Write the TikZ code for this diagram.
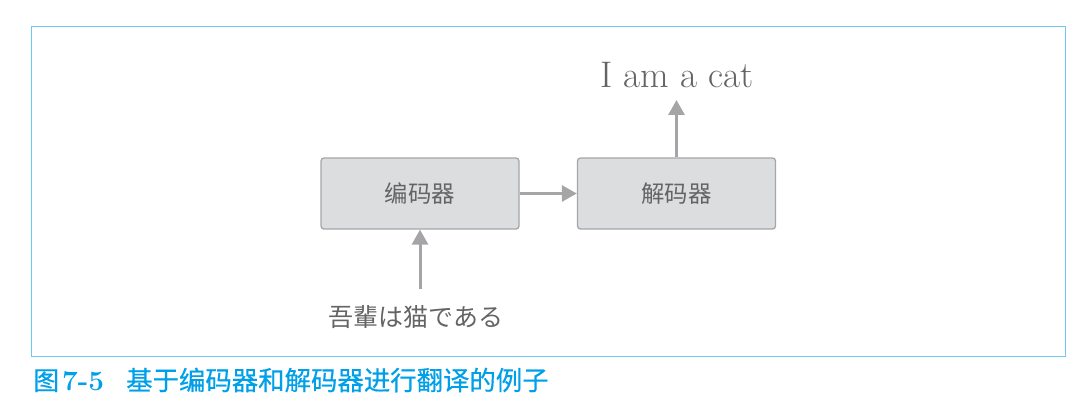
\documentclass[tikz,border=0pt]{standalone}
\usepackage{fontspec}
\newfontfamily\cjk{Noto Sans CJK SC}
\newfontfamily\cjkb[FakeBold=0.5]{Noto Sans CJK SC}
\newfontfamily\jp{Noto Sans CJK JP}
\usetikzlibrary{arrows.meta}
\definecolor{framec}{RGB}{110,200,240}
\definecolor{capc}{RGB}{0,160,233}
\definecolor{boxfill}{RGB}{220,221,223}
\definecolor{boxdraw}{RGB}{165,166,169}
\definecolor{arrc}{RGB}{165,165,168}
\definecolor{txtc}{RGB}{100,100,100}
\tikzset{
  box/.style={draw=boxdraw, fill=boxfill, line width=1.3pt, rounded corners=3pt,
    minimum width=198pt, minimum height=71pt, inner sep=0pt, text=txtc,
    font=\cjk\fontsize{23.4}{26}\selectfont},
  arr/.style={draw=arrc, line width=3pt, -{Triangle[length=15pt,width=16pt]}},
  lbl/.style={text=txtc, inner sep=0pt}
}
\begin{document}
\begin{tikzpicture}[x=1pt,y=-1pt]
\useasboundingbox (0,0) rectangle (1090,416);
\draw[framec, line width=0.9pt] (31,26) rectangle (1065,356);
\node[box] (enc) at (420,193.5) {编码器};
\node[box] (dec) at (676.5,193.5) {解码器};
\node[lbl, font=\fontsize{37}{44}\selectfont] (out) at (677,75) {I am a cat};
\node[lbl, font=\jp\fontsize{25}{28}\selectfont] (in) at (416,317) {吾輩は猫である};
\draw[arr] (enc.east) -- (dec.west);
\draw[arr, shorten >=12pt] (dec.north) -- (dec.north |- out.south);
\draw[arr, shorten <=16pt] (enc.south |- in.north) -- (enc.south);
\node[anchor=west, inner sep=0pt, text=capc] (cap) at (33,380)
  {{\cjkb\fontsize{26}{30}\selectfont 图}\hspace{3pt}{\fontsize{28}{30}\selectfont\bfseries 7-5}\hspace{22pt}{\cjkb\fontsize{26.4}{30}\selectfont 基于编码器和解码器进行翻译的例子}};
\end{tikzpicture}
\end{document}
